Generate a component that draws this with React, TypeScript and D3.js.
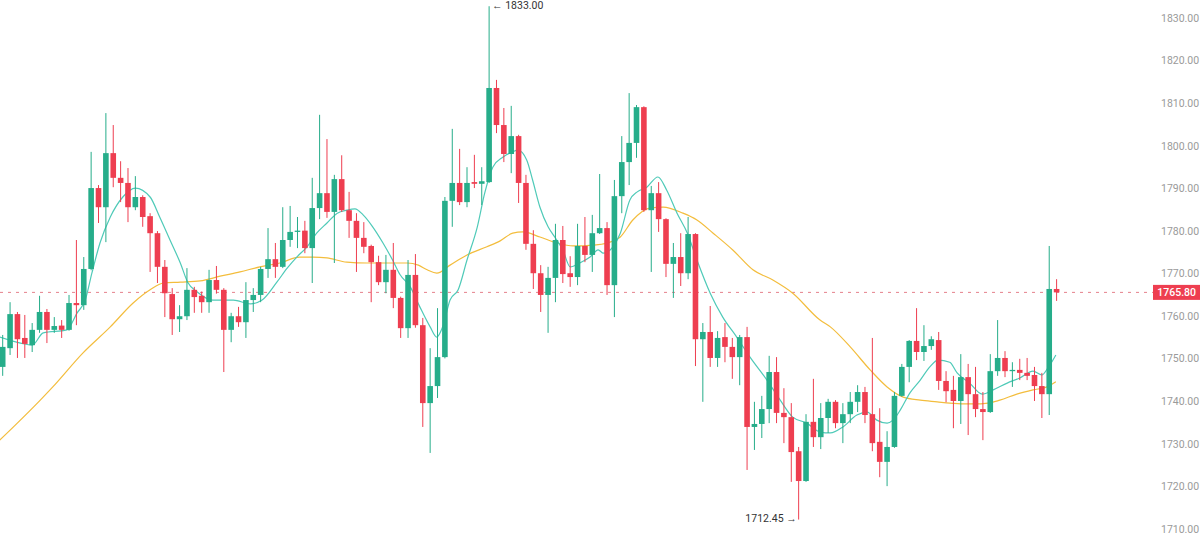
import React, { useEffect } from 'react'
import * as d3 from 'd3'

// --- OHLC, one entry per candle ---
const opens = [
  1748.3, 1752.7, 1760.7, 1755.1, 1753.4, 1757.0, 1761.2, 1757.0, 1758.0, 1757.0,
  1763.3, 1762.8, 1771.3, 1790.3, 1785.8, 1798.5, 1792.7, 1791.5, 1785.8, 1788.2,
  1783.7, 1779.7, 1771.8, 1765.4, 1759.5, 1760.2, 1766.4, 1765.0, 1763.5, 1768.7,
  1766.4, 1757.0, 1760.2, 1758.8, 1764.0, 1765.2, 1771.3, 1773.6, 1771.8, 1778.1,
  1780.0, 1780.3, 1776.2, 1785.6, 1789.1, 1784.7, 1792.4, 1785.1, 1782.6, 1778.6,
  1776.7, 1772.9, 1768.2, 1771.1, 1764.5, 1757.4, 1769.9, 1758.1, 1739.8, 1743.8,
  1750.6, 1787.3, 1791.5, 1787.0, 1791.7, 1791.3, 1791.7, 1813.8, 1805.1, 1798.3,
  1802.5, 1791.5, 1777.2, 1770.3, 1765.2, 1769.2, 1778.1, 1770.3, 1769.4, 1776.7,
  1774.6, 1779.7, 1780.9, 1767.5, 1788.4, 1796.4, 1800.9, 1809.3, 1785.1, 1789.1,
  1783.0, 1772.5, 1774.1, 1770.3, 1779.5, 1754.8, 1756.5, 1750.4, 1755.3, 1753.0,
  1750.6, 1755.3, 1734.2, 1734.9, 1738.4, 1747.1, 1737.5, 1736.5, 1728.5, 1721.5,
  1735.4, 1731.8, 1736.3, 1740.1, 1735.1, 1737.2, 1740.1, 1742.4, 1737.2, 1730.7,
  1726.0, 1729.5, 1741.5, 1748.3, 1754.4, 1751.8, 1753.2, 1754.6, 1745.0, 1742.9,
  1740.3, 1745.9, 1741.9, 1738.4, 1737.7, 1747.3, 1750.4, 1747.3, 1747.6, 1746.9,
  1746.4, 1743.8, 1741.9, 1766.6,
]
const highs = [
  1755.8, 1763.5, 1761.2, 1760.5, 1758.6, 1765.0, 1761.9, 1760.0, 1759.3, 1765.2,
  1778.1, 1774.1, 1798.8, 1791.0, 1807.9, 1805.1, 1796.6, 1795.0, 1793.1, 1788.6,
  1784.4, 1780.2, 1773.4, 1766.8, 1762.8, 1771.5, 1767.1, 1766.0, 1771.1, 1772.0,
  1766.8, 1761.0, 1762.4, 1768.2, 1766.8, 1771.8, 1780.9, 1777.4, 1785.8, 1786.1,
  1783.5, 1782.6, 1792.7, 1807.5, 1801.8, 1793.4, 1798.0, 1789.4, 1784.4, 1782.3,
  1777.0, 1774.4, 1774.6, 1777.4, 1764.8, 1773.4, 1774.8, 1759.8, 1752.7, 1762.1,
  1788.2, 1804.2, 1799.5, 1795.2, 1798.1, 1795.2, 1833.0, 1815.7, 1809.1, 1809.6,
  1802.8, 1793.4, 1780.4, 1772.2, 1771.8, 1781.9, 1781.4, 1774.3, 1781.9, 1783.5,
  1784.0, 1793.6, 1782.3, 1792.2, 1802.5, 1812.6, 1809.8, 1809.5, 1790.8, 1791.7,
  1783.2, 1777.4, 1779.7, 1783.5, 1779.7, 1758.6, 1762.6, 1756.7, 1758.6, 1755.1,
  1755.8, 1757.7, 1740.1, 1741.5, 1750.9, 1750.6, 1743.3, 1739.8, 1729.5, 1737.2,
  1745.5, 1739.8, 1740.8, 1740.5, 1739.8, 1742.4, 1744.0, 1743.6, 1755.1, 1738.6,
  1733.2, 1742.4, 1749.0, 1754.6, 1762.1, 1758.1, 1755.5, 1756.5, 1747.3, 1746.2,
  1751.3, 1749.0, 1748.3, 1742.4, 1751.3, 1759.3, 1752.0, 1749.4, 1750.2, 1750.4,
  1748.3, 1746.9, 1776.7, 1768.9,
]
const lows = [
  1746.2, 1751.1, 1750.4, 1750.4, 1751.8, 1756.3, 1753.9, 1756.3, 1755.1, 1756.8,
  1758.1, 1761.7, 1771.0, 1782.1, 1777.6, 1790.5, 1787.0, 1782.3, 1785.1, 1781.2,
  1770.6, 1768.0, 1760.0, 1755.8, 1756.5, 1759.3, 1761.0, 1761.0, 1761.0, 1765.5,
  1747.1, 1754.1, 1757.7, 1755.1, 1761.2, 1763.5, 1769.2, 1769.2, 1771.5, 1776.5,
  1776.2, 1775.0, 1768.0, 1783.0, 1783.3, 1772.7, 1784.7, 1778.6, 1770.6, 1775.0,
  1763.5, 1767.5, 1765.6, 1762.1, 1755.1, 1755.1, 1757.5, 1734.2, 1728.1, 1741.0,
  1750.3, 1781.2, 1786.3, 1785.8, 1790.3, 1786.3, 1791.5, 1803.2, 1796.4, 1793.8,
  1786.8, 1775.8, 1766.6, 1761.2, 1756.3, 1763.5, 1768.0, 1767.1, 1767.5, 1772.9,
  1770.6, 1779.5, 1765.2, 1760.0, 1784.4, 1791.0, 1797.4, 1784.7, 1770.6, 1780.0,
  1769.4, 1764.5, 1767.3, 1768.9, 1748.5, 1740.1, 1748.3, 1748.3, 1749.4, 1745.5,
  1744.0, 1724.1, 1728.8, 1731.6, 1735.1, 1735.1, 1730.4, 1721.3, 1712.45, 1721.3,
  1729.5, 1729.0, 1732.8, 1733.9, 1730.4, 1735.1, 1737.7, 1735.1, 1728.5, 1722.4,
  1720.3, 1729.3, 1741.3, 1744.7, 1749.9, 1749.7, 1752.3, 1742.9, 1740.0, 1733.9,
  1734.9, 1732.3, 1736.5, 1731.1, 1737.5, 1746.2, 1745.9, 1743.6, 1745.2, 1745.2,
  1740.3, 1736.3, 1737.0, 1763.8,
]
const closes = [
  1753.0, 1760.7, 1754.8, 1753.7, 1757.0, 1761.2, 1757.0, 1757.9, 1757.0, 1763.3,
  1762.8, 1771.3, 1790.3, 1785.8, 1798.5, 1792.7, 1791.5, 1785.8, 1788.2, 1783.5,
  1779.7, 1771.8, 1765.6, 1759.5, 1760.2, 1766.4, 1764.7, 1763.5, 1768.7, 1766.4,
  1757.0, 1760.2, 1758.8, 1764.0, 1765.2, 1771.3, 1773.6, 1771.8, 1778.1, 1780.0,
  1780.3, 1776.2, 1785.6, 1789.1, 1784.7, 1792.4, 1785.1, 1782.6, 1778.6, 1776.5,
  1772.9, 1768.2, 1771.1, 1764.5, 1757.4, 1769.9, 1758.1, 1739.8, 1743.8, 1750.6,
  1787.3, 1791.5, 1787.0, 1791.5, 1791.3, 1791.9, 1813.8, 1805.1, 1798.3, 1802.5,
  1791.5, 1777.2, 1770.3, 1765.2, 1769.2, 1778.1, 1770.1, 1769.4, 1776.7, 1774.6,
  1779.7, 1780.9, 1767.5, 1788.4, 1796.4, 1800.9, 1809.3, 1785.1, 1789.1, 1783.0,
  1772.5, 1774.1, 1770.3, 1779.5, 1754.8, 1756.5, 1750.4, 1755.1, 1753.0, 1750.6,
  1755.3, 1734.2, 1734.9, 1738.4, 1747.1, 1737.5, 1736.5, 1728.3, 1721.5, 1735.4,
  1731.8, 1736.3, 1740.1, 1735.1, 1737.2, 1740.1, 1742.4, 1737.0, 1730.4, 1726.0,
  1729.5, 1741.5, 1748.3, 1754.4, 1751.8, 1753.2, 1754.8, 1745.0, 1742.6, 1740.3,
  1745.9, 1741.9, 1738.4, 1737.7, 1747.3, 1750.4, 1747.3, 1747.6, 1746.9, 1746.2,
  1743.8, 1741.9, 1766.6, 1765.8,
]

// moving averages as drawn on the chart: [candle index, price]
const fastMA: [number, number][] = [
  [-0.4, 1755.3], [2.4, 1753.9], [4, 1753.4], [5.5, 1756.3], [8.7, 1757.0], [10.1, 1761.0],
  [11.2, 1764.0], [12.1, 1770.3], [13.2, 1777.4], [14.6, 1783.5], [16.3, 1788.2], [18, 1790.3],
  [20, 1788.2], [21.3, 1783.5], [22.7, 1778.1], [24.1, 1772.7], [25.1, 1768.2], [26.4, 1765.9],
  [28.5, 1764.0], [31.3, 1764.0], [33.6, 1763.1], [35.2, 1764.0], [37.2, 1768.2], [38.6, 1771.5],
  [39.9, 1774.1], [41.3, 1776.5], [42.6, 1779.7], [44, 1782.1], [45.4, 1784.4], [46.7, 1785.1],
  [47.8, 1785.4], [48.9, 1784.0], [50.2, 1781.2], [51.6, 1777.4], [52.9, 1773.4], [53.9, 1770.0],
  [55.3, 1767.1], [56.6, 1762.4], [58, 1757.7], [58.9, 1755.3], [59.7, 1757.7], [60.7, 1764.0],
  [61.8, 1766.4], [63, 1773.4], [64.4, 1781.2], [65.4, 1789.1], [66.5, 1795.2], [67.9, 1797.6],
  [69.2, 1798.8], [69.9, 1799.2], [71.1, 1796.9], [71.9, 1792.2], [72.9, 1785.8], [74, 1781.2],
  [74.9, 1778.8], [76, 1775.8], [77, 1771.8], [78.3, 1772.7], [79.7, 1774.1], [80.8, 1775.8],
  [81.5, 1775.0], [82.8, 1776.5], [83.8, 1779.7], [85.1, 1787.5], [86.1, 1789.4], [87.4, 1790.5],
  [88.9, 1792.9], [90.1, 1789.8], [91.5, 1784.4], [92.9, 1779.7], [94.2, 1773.4], [96, 1765.6],
  [97.7, 1760.0], [99.6, 1755.3], [101.4, 1750.6], [103.7, 1745.2], [105.5, 1740.5], [107.2, 1736.5],
  [109.1, 1735.1], [110.9, 1733.0], [112.3, 1732.8], [114, 1734.2], [115.9, 1737.0], [117.3, 1737.7],
  [118.6, 1735.8], [120, 1735.1], [120.8, 1735.8], [121.8, 1738.2], [123.1, 1742.2], [124.5, 1745.2],
  [125.8, 1748.3], [126.9, 1749.9], [128.5, 1749.4], [129.5, 1746.9], [131.2, 1744.5], [132.9, 1741.9],
  [134.4, 1742.9], [136.3, 1744.5], [138, 1745.7], [139.8, 1747.3], [141, 1746.4], [141.8, 1748.0],
  [142.9, 1751.1],
]
const slowMA: [number, number][] = [
  [-0.4, 1731.1], [5.1, 1740.5], [6.8, 1743.6], [10.9, 1751.6], [14.6, 1757.7], [17.7, 1763.3],
  [20, 1766.4], [21.8, 1768.0], [24.1, 1768.2], [26.8, 1768.5], [29.5, 1769.6], [32.2, 1770.6],
  [34.9, 1771.8], [37.6, 1772.7], [40.3, 1774.1], [42.1, 1774.1], [44, 1773.9], [46.7, 1772.9],
  [49.4, 1772.7], [52.1, 1772.7], [54.9, 1772.7], [56.4, 1772.2], [57.6, 1771.1], [58.9, 1770.3],
  [60.7, 1772.2], [63, 1774.6], [65.7, 1776.5], [67.5, 1777.9], [69.2, 1779.7], [70.6, 1780.0],
  [72.9, 1778.8], [75.2, 1777.4], [77.4, 1776.7], [80.1, 1776.9], [82, 1777.4], [83.8, 1778.8],
  [85.5, 1782.8], [87.8, 1785.6], [89.6, 1785.8], [92.3, 1784.4], [94.2, 1782.8], [96.4, 1779.7],
  [99.1, 1775.7], [101.8, 1771.1], [104.5, 1768.7], [107.2, 1765.6], [110.9, 1759.3], [112.3, 1757.7],
  [115, 1753.0], [117.7, 1747.6], [120, 1743.6], [122.2, 1741.2], [124.5, 1740.5], [126.8, 1740.1],
  [128.5, 1739.8], [131.7, 1739.6], [133.7, 1739.8], [135.3, 1740.5], [137.6, 1741.9], [139.8, 1742.9],
  [141.7, 1743.6], [142.9, 1744.8],
]

const priceTicks = [1710, 1720, 1730, 1740, 1750, 1760, 1770, 1780, 1790, 1800, 1810, 1820, 1830]
const lastPrice = 1765.8
const highMark = { index: 66, value: 1833.0 }
const lowMark = { index: 108, value: 1712.45 }

const UP = '#26ad8a'
const DOWN = '#ee3e50'
const W = 1200
const H = 542

export default function App() {
  useEffect(() => {
    document.body.style.margin = '0'
  }, [])

  const x = d3.scaleLinear().domain([0, 143]).range([2.7, 1056.6])
  const y = d3.scaleLinear().domain([1710, 1830]).range([530, 19])
  const bodyW = 5.6

  const maLine = d3.line<[number, number]>()
    .x(d => x(d[0]))
    .y(d => y(d[1]))
    .curve(d3.curveMonotoneX)

  const font = 'Roboto, "Noto Sans", sans-serif'
  const tagX = 1153

  return (
    <svg width={W} height={H} style={{ display: 'block', background: '#fff' }}>
      {/* last price dashed line */}
      <line x1={0} x2={tagX} y1={y(lastPrice)} y2={y(lastPrice)}
        stroke="#e5808b" strokeWidth={1} strokeDasharray="3 5" />

      {/* moving averages */}
      <path d={maLine(slowMA) || ''} fill="none" stroke="#f3bd3d" strokeWidth={1.2} />
      <path d={maLine(fastMA) || ''} fill="none" stroke="#4fcab8" strokeWidth={1.2} />

      {/* candles */}
      <g>
        {closes.map((c, i) => {
          const o = opens[i]
          const col = c >= o ? UP : DOWN
          const top = y(Math.max(o, c))
          const bot = y(Math.min(o, c))
          const cx = x(i)
          return (
            <g key={i}>
              <line x1={cx} x2={cx} y1={y(highs[i])} y2={y(lows[i])} stroke={col} strokeWidth={1} />
              <rect x={cx - bodyW / 2} y={top} width={bodyW} height={Math.max(1.2, bot - top)} fill={col} />
            </g>
          )
        })}
      </g>

      {/* high / low marks */}
      <text x={x(highMark.index) + 3} y={y(highMark.value)} dominantBaseline="middle"
        fontSize={10.5} fill="#333" fontFamily={font}>
        {'← ' + highMark.value.toFixed(2)}
      </text>
      <text x={x(lowMark.index) - 2} y={y(lowMark.value)} dominantBaseline="middle" textAnchor="end"
        fontSize={10.5} fill="#333" fontFamily={font}>
        {lowMark.value.toFixed(2) + ' →'}
      </text>

      {/* price axis */}
      <g fontFamily={font} fontSize={10.5} fill="#9a9a9a">
        {priceTicks.map(t => (
          <text key={t} x={1161} y={y(t)} dominantBaseline="middle">{t.toFixed(2)}</text>
        ))}
      </g>

      {/* last price tag */}
      <rect x={tagX} y={y(lastPrice) - 7.5} width={W - tagX} height={15} fill={DOWN} />
      <text x={1196} y={y(lastPrice) + 0.5} dominantBaseline="middle" textAnchor="end" fontFamily={font}
        fontSize={10.5} fontWeight={500} fill="#fff">{lastPrice.toFixed(2)}</text>
    </svg>
  )
}
